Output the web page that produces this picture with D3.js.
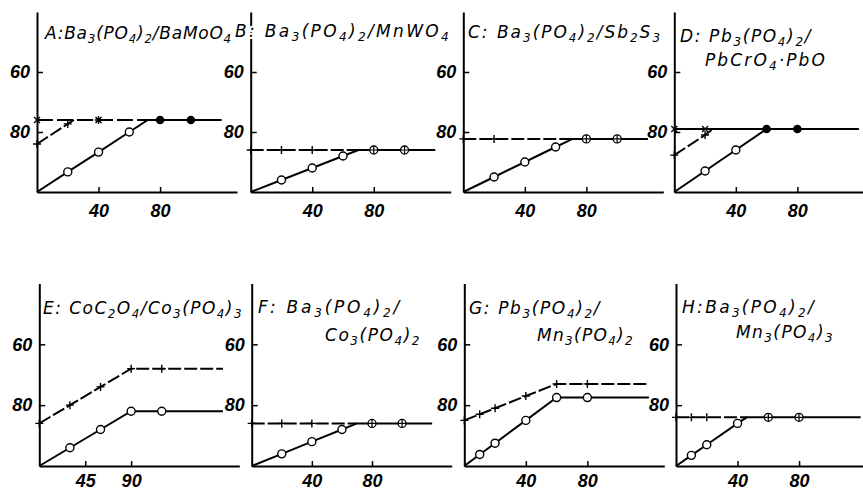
<!DOCTYPE html>
<html>
<head>
<meta charset="utf-8">
<script src="https://cdn.jsdelivr.net/npm/d3@7"></script>
<style>
  html, body { margin: 0; padding: 0; background: #fff; }
  svg { display: block; }
  .tick text { font-family: "Liberation Sans", Arial, sans-serif; font-weight: bold; font-style: italic; font-size: 18px; fill: #000; }
  .title { font-family: "DejaVu Sans", sans-serif; font-style: italic; font-size: 17px; fill: #000;
           paint-order: stroke; stroke: #fff; stroke-width: 4px; stroke-linejoin: round; }
</style>
</head>
<body>
<svg id="chart" width="863" height="492"></svg>
<script>
// ---------------- DATA ----------------
const panelIds = ["A", "B", "C", "D", "E", "F", "G", "H"];

const titleA = ["A:Ba_3(PO_4)_2/BaMoO_4"];
const titleB = ["B: Ba_3(PO_4)_2/MnWO_4"];
const titleC = ["C: Ba_3(PO_4)_2/Sb_2S_3"];
const titleD = ["D: Pb_3(PO_4)_2/", "PbCrO_4·PbO"];
const titleE = ["E: CoC_2O_4/Co_3(PO_4)_3"];
const titleF = ["F: Ba_3(PO_4)_2/", "Co_3(PO_4)_2"];
const titleG = ["G: Pb_3(PO_4)_2/", "Mn_3(PO_4)_2"];
const titleH = ["H:Ba_3(PO_4)_2/", "Mn_3(PO_4)_3"];

const yTicks = [60, 80];
const xTicksStd = [40, 80];
const xTicksE = [45, 90];

// solid line (open-circle series), dashed line (plus series), plateau line
const lineA_o = [[0,100],[20,93.3],[40,86.7],[60,80],[72,76],[120,76]];
const lineA_p = [[0,84],[20,77.3],[24,76]];
const lineA_x = [[0,76],[72,76]];
const marksA = [[0,76,"x"],[40,76,"s"],[80,76,"f"],[100,76,"f"],[0,84,"p"],[20,77.3,"p"],[20,93.3,"o"],[40,86.7,"o"],[60,80,"o"]];

const lineB_o = [[0,100],[20,96],[40,92],[60,88],[70,86],[120,86]];
const lineB_p = [[0,86],[70,86]];
const marksB = [[0,86,"p"],[20,86,"p"],[40,86,"p"],[20,96,"o"],[40,92,"o"],[60,88,"o"],[80,86,"c"],[100,86,"c"]];

const lineC_o = [[0,100],[20,95],[40,90],[60,85],[71,82.3],[120,82.3]];
const lineC_p = [[0,82.3],[71,82.3]];
const marksC = [[0,82.3,"p"],[20,82.3,"p"],[20,95,"o"],[40,90,"o"],[60,85,"o"],[80,82.3,"c"],[100,82.3,"c"]];

const lineD_o = [[0,100],[20,93],[40,86],[60,79],[120,79]];
const lineD_p = [[0,87.7],[20,81],[25,79]];
const lineD_x = [[0,79],[60,79]];
const marksD = [[0,79,"x"],[20,79,"x"],[0,87.7,"p"],[20,81,"p"],[20,93,"o"],[40,86,"o"],[60,79,"f"],[80,79,"f"]];

const lineE_o = [[0,100],[30,94],[60,88],[90,82],[120,82],[180,82]];
const lineE_p = [[0,86],[30,80],[60,74],[90,68],[120,68],[180,68]];
const marksE = [[0,86,"p"],[30,80,"p"],[60,74,"p"],[90,68,"p"],[120,68,"p"],[30,94,"o"],[60,88,"o"],[90,82,"o"],[120,82,"o"]];

const lineF_o = [[0,100],[20,96],[40,92],[60,88],[70,86],[120,86]];
const lineF_p = [[0,86],[70,86]];
const marksF = [[0,86,"p"],[20,86,"p"],[40,86,"p"],[20,96,"o"],[40,92,"o"],[60,88,"o"],[80,86,"c"],[100,86,"c"]];

const lineG_o = [[0,100],[10,96.2],[20,92.5],[40,85],[60,77.5],[80,77.5],[120,77.5]];
const lineG_p = [[0,85],[10,83],[20,81],[40,77],[60,73],[80,73],[120,73]];
const marksG = [[0,85,"p"],[10,83,"p"],[20,81,"p"],[40,77,"p"],[60,73,"p"],[80,73,"p"],[10,96.2,"o"],[20,92.5,"o"],[40,85,"o"],[60,77.5,"o"],[80,77.5,"o"]];

const lineH_o = [[0,100],[10,96.5],[20,93],[40,86],[46,84],[120,84]];
const lineH_p = [[0,84],[46,84]];
const marksH = [[0,84,"p"],[10,84,"p"],[20,84,"p"],[10,96.5,"o"],[20,93,"o"],[40,86,"o"],[60,84,"c"],[80,84,"c"]];

// ---------------- LAYOUT (positions / sizes only) ----------------
const layout = {
  A: {x0: 37,    top: 12,    bottom: 192, xMax: 130, ticks: xTicksStd, pad: 12, title: titleA, tpos: [[45,39,187]],                   o: lineA_o, p: lineA_p, x: lineA_x, xDash: true,  m: marksA},
  B: {x0: 250.7, top: 12,    bottom: 192, xMax: 130, ticks: xTicksStd, pad: 12, title: titleB, tpos: [[235,37,216]],                  o: lineB_o, p: lineB_p, x: null,    m: marksB},
  C: {x0: 463.3, top: 12,    bottom: 192, xMax: 130, ticks: xTicksStd, pad: 12, title: titleC, tpos: [[468,37.5,194]],                o: lineC_o, p: lineC_p, x: null,    m: marksC},
  D: {x0: 674.3, top: 12,    bottom: 192, xMax: 130, ticks: xTicksStd, pad: 12, title: titleD, tpos: [[680,42,132],[705,66,122]],     o: lineD_o, p: lineD_p, x: lineD_x, xDash: false, m: marksD},
  E: {x0: 39.3,  top: 283.5, bottom: 466, xMax: 196, ticks: xTicksE,   pad: 8,  title: titleE, tpos: [[43,314,200]],                  o: lineE_o, p: lineE_p, x: null,    m: marksE},
  F: {x0: 251.7, top: 283.5, bottom: 466, xMax: 133, ticks: xTicksStd, pad: 8,  title: titleF, tpos: [[258,313,144],[325,341,96]],     o: lineF_o, p: lineF_p, x: null,    m: marksF},
  G: {x0: 464.3, top: 283.5, bottom: 466, xMax: 130, ticks: xTicksStd, pad: 8,  title: titleG, tpos: [[469,314,132],[537,341,97]],     o: lineG_o, p: lineG_p, x: null,    m: marksG},
  H: {x0: 676,   top: 283.5, bottom: 466, xMax: 130, ticks: xTicksStd, pad: 8,  title: titleH, tpos: [[682,313,134],[736,338,98]],     o: lineH_o, p: lineH_p, x: null,    m: marksH}
};

const svg = d3.select("#chart");
const axesLayer = svg.append("g");
const titleLayer = svg.append("g");

function addTitle(g, str, px, py, targetW) {
  const t = g.append("text").attr("class", "title").attr("x", px).attr("y", py);
  const parts = str.split(/(_[0-9])/).filter(s => s.length);
  let shifted = false, n = 0;
  parts.forEach(s => {
    if (s[0] === "_") {
      t.append("tspan").attr("dy", 4).style("font-size", "12px").text(s.slice(1));
      shifted = true; n += 1;
    } else {
      t.append("tspan").attr("dy", shifted ? -4 : 0).text(s);
      shifted = false; n += s.length;
    }
  });
  const w = t.node().getComputedTextLength();
  const ls = Math.max(-1, (targetW - w) / n);
  t.style("letter-spacing", ls + "px");
}

panelIds.forEach(id => {
  const P = layout[id];
  const g = axesLayer.append("g");
  const x = d3.scaleLinear().domain([0, P.xMax]).range([P.x0, P.x0 + 200]);
  const y = d3.scaleLinear().domain([40, 100]).range([P.top, P.bottom]);

  // axes
  const ya = g.append("g").attr("transform", `translate(${P.x0},0)`)
    .call(d3.axisLeft(y).tickValues(yTicks).tickSizeInner(-6).tickSizeOuter(0).tickPadding(7).tickFormat(d3.format("d")));
  const xa = g.append("g").attr("transform", `translate(0,${P.bottom})`)
    .call(d3.axisBottom(x).tickValues(P.ticks).tickSizeInner(-5).tickSizeOuter(0).tickPadding(P.pad).tickFormat(d3.format("d")));
  [ya, xa].forEach(a => {
    a.select(".domain").attr("stroke", "#000").attr("stroke-width", 2);
    a.selectAll(".tick line").attr("stroke", "#000").attr("stroke-width", 1.5);
  });

  const line = d3.line().x(d => x(d[0])).y(d => y(d[1]));
  if (P.x) {
    g.append("path").attr("d", line(P.x)).attr("fill", "none").attr("stroke", "#000")
      .attr("stroke-width", 2).attr("stroke-dasharray", P.xDash ? "16,4" : null);
  }
  g.append("path").attr("d", line(P.p)).attr("fill", "none").attr("stroke", "#000")
    .attr("stroke-width", 2).attr("stroke-dasharray", "13,3");
  g.append("path").attr("d", line(P.o)).attr("fill", "none").attr("stroke", "#000")
    .attr("stroke-width", 2);

  // markers
  P.m.forEach(([vx, vy, t]) => {
    const cx = x(vx), cy = y(vy);
    if (t === "o") {
      g.append("circle").attr("cx", cx).attr("cy", cy).attr("r", 4).attr("fill", "#fff").attr("stroke", "#000").attr("stroke-width", 1.4);
    } else if (t === "f") {
      g.append("circle").attr("cx", cx).attr("cy", cy).attr("r", 4.3).attr("fill", "#000");
    } else if (t === "c") {
      g.append("circle").attr("cx", cx).attr("cy", cy).attr("r", 4).attr("fill", "#fff").attr("stroke", "#000").attr("stroke-width", 1.3);
      g.append("path").attr("d", `M${cx-4},${cy}H${cx+4}M${cx},${cy-4}V${cy+4}`).attr("stroke", "#000").attr("stroke-width", 1.2);
    } else if (t === "p") {
      g.append("path").attr("d", `M${cx-4},${cy}H${cx+4}M${cx},${cy-4}V${cy+4}`).attr("stroke", "#000").attr("stroke-width", 1.4);
    } else if (t === "x") {
      g.append("path").attr("d", `M${cx-3},${cy-3}L${cx+3},${cy+3}M${cx-3},${cy+3}L${cx+3},${cy-3}`).attr("stroke", "#000").attr("stroke-width", 1.3);
    } else if (t === "s") {
      g.append("path").attr("d", `M${cx-3},${cy-3}L${cx+3},${cy+3}M${cx-3},${cy+3}L${cx+3},${cy-3}M${cx},${cy-4}V${cy+4}M${cx-4},${cy}H${cx+4}`).attr("stroke", "#000").attr("stroke-width", 1.5);
    }
  });

  P.title.forEach((s, i) => addTitle(titleLayer, s, P.tpos[i][0], P.tpos[i][1], P.tpos[i][2]));
});
</script>
</body>
</html>
